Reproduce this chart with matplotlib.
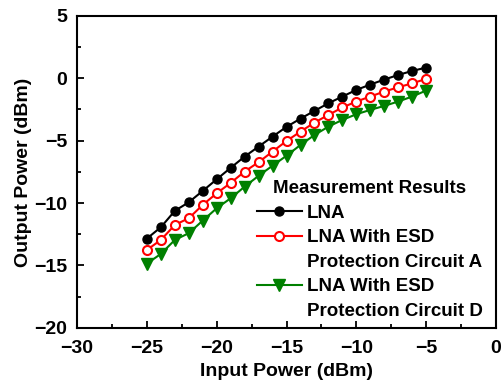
import matplotlib
matplotlib.use("Agg")
import matplotlib.pyplot as plt
from matplotlib.lines import Line2D
from matplotlib.ticker import MultipleLocator

plt.rcParams['font.family'] = ['Liberation Sans', 'DejaVu Sans']
plt.rcParams['font.weight'] = 'bold'

# input power sweep (dBm)
pin = [-25, -24, -23, -22, -21, -20, -19, -18, -17, -16, -15,
       -14, -13, -12, -11, -10, -9, -8, -7, -6, -5]

# measured output power (dBm)
lna = [-12.84, -11.93, -10.62, -9.93, -9.02, -8.09, -7.17, -6.27, -5.47, -4.67, -3.89,
       -3.23, -2.61, -2.00, -1.46, -0.93, -0.50, -0.10, 0.27, 0.59, 0.86]
lna_esd_a = [-13.75, -12.95, -11.75, -11.21, -10.14, -9.21, -8.38, -7.47, -6.72, -5.87, -5.02,
             -4.27, -3.55, -2.93, -2.34, -1.86, -1.46, -1.06, -0.72, -0.40, -0.05]
lna_esd_d = [-14.85, -14.07, -12.95, -12.41, -11.40, -10.41, -9.61, -8.68, -7.81, -7.00, -6.20,
             -5.34, -4.54, -3.87, -3.33, -2.88, -2.53, -2.21, -1.86, -1.46, -0.98]

# each label: first line sits next to the marker, second line (if any) below it
labels = [("LNA", None),
          ("LNA With ESD", "Protection Circuit A"),
          ("LNA With ESD", "Protection Circuit D")]

fig = plt.figure(figsize=(5.01, 3.88), dpi=100)
ax = fig.add_axes([0.154, 0.155, 0.836, 0.804])

l1, = ax.plot(pin, lna, color='black', marker='o', markersize=6.5, linewidth=1.5)
l2, = ax.plot(pin, lna_esd_a, color='red', marker='o', markersize=6.5, markerfacecolor='white',
              markeredgewidth=1.5, linewidth=1.5)
l3, = ax.plot(pin, lna_esd_d, color='#008000', marker='v', markersize=8, linewidth=1.5)

ax.set_xlim(-30, 0)
ax.set_ylim(-20, 5)
ax.xaxis.set_major_locator(MultipleLocator(5))
ax.xaxis.set_minor_locator(MultipleLocator(2.5))
ax.yaxis.set_major_locator(MultipleLocator(5))
ax.yaxis.set_minor_locator(MultipleLocator(2.5))
ax.tick_params(which='both', direction='in', top=False, right=False, width=1.3, labelsize=14)
ax.tick_params(which='major', length=5)
ax.tick_params(which='minor', length=3)
ax.tick_params(axis='x', pad=8.5)
ax.tick_params(axis='y', pad=7)
for s in ax.spines.values():
    s.set_linewidth(1.5)

ax.set_xlabel("Input Power (dBm)", fontsize=14, fontweight='bold', labelpad=4.5)
ax.set_ylabel("Output Power (dBm)", fontsize=14, fontweight='bold', labelpad=2)

# legend rows: continuation lines get an empty handle
handles, texts = [], []
for line, (first, second) in zip([l1, l2, l3], labels):
    handles.append(line)
    texts.append(first)
    if second:
        handles.append(Line2D([], [], linestyle='none'))
        texts.append(second)

leg = ax.legend(handles, texts, title="Measurement Results", loc='upper left',
                bbox_to_anchor=(0.429, 0.474), frameon=False, fontsize=13.5,
                title_fontsize=13.5, numpoints=1, handlelength=2.4, handletextpad=0.25,
                labelspacing=0.4, borderpad=0, borderaxespad=0)
leg.get_title().set_fontweight('bold')

fig.savefig("out.png", dpi=100)
